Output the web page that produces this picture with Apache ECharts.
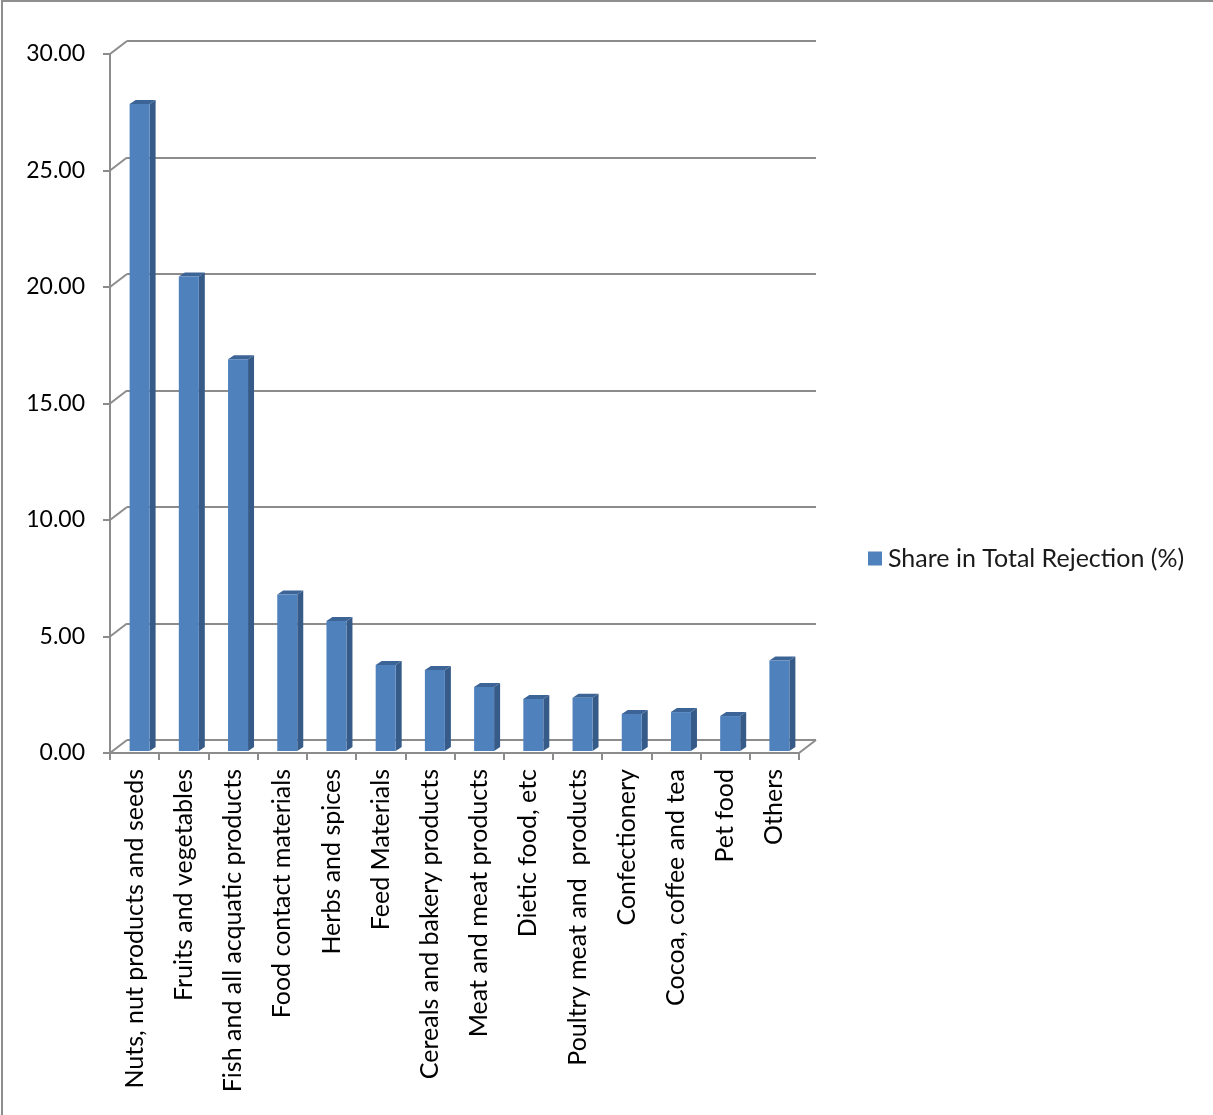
<!DOCTYPE html>
<html>
<head>
<meta charset="utf-8">
<script src="https://cdn.jsdelivr.net/npm/echarts@6/dist/echarts.min.js"></script>
<style>
html,body{margin:0;padding:0;background:#fff;}
#frame{position:absolute;left:1px;top:0;width:1212px;height:1115px;box-sizing:border-box;border-left:2px solid #8e8e8e;border-top:2px solid #8e8e8e;}
#chart{position:absolute;left:0;top:0;width:1213px;height:1115px;}
</style>
</head>
<body>
<div id="chart"></div>
<div id="frame"></div>
<script>
const categories = [
  "Nuts, nut products and seeds",
  "Fruits and vegetables",
  "Fish and all acquatic products",
  "Food contact materials",
  "Herbs and spices",
  "Feed Materials",
  "Cereals and bakery products",
  "Meat and meat products",
  "Dietic food, etc",
  "Poultry meat and  products",
  "Confectionery",
  "Cocoa, coffee and tea",
  "Pet food",
  "Others"
];
const shareValues = [27.77, 20.36, 16.81, 6.72, 5.58, 3.69, 3.48, 2.75, 2.23, 2.29, 1.59, 1.67, 1.50, 3.88];
const seriesName = "Share in Total Rejection (%)";
const yTicks = [0, 5, 10, 15, 20, 25, 30];

const FONT = "Lato";
const GRAY = "#8c8c8c";
const DEPTH_X = 17, DEPTH_Y = 13;   // back-wall offset
const BAR_W = 20, BAR_DX = 6, BAR_DY = 4; // bar face width and bar depth

const chart = echarts.init(document.getElementById('chart'), null, {renderer: 'canvas'});

function renderBar(params, api) {
  const idx = api.value(0);
  const val = api.value(1);
  const top = api.coord([idx, val]);
  const base = api.coord([idx, 0]);
  const cx = top[0] + 5;
  const x0 = cx - BAR_W / 2, x1 = cx + BAR_W / 2;
  const yT = top[1] - 2, yB = base[1] - 2;
  return {
    type: 'group',
    children: [
      {type: 'polygon', shape: {points: [[x1, yT], [x1 + BAR_DX, yT - BAR_DY], [x1 + BAR_DX, yB - BAR_DY], [x1, yB]]},
       style: {fill: '#375b88'}},
      {type: 'polygon', shape: {points: [[x0, yT], [x0 + BAR_DX, yT - BAR_DY], [x1 + BAR_DX, yT - BAR_DY], [x1, yT]]},
       style: {fill: '#3d6496'}},
      {type: 'rect', shape: {x: x0, y: yT, width: BAR_W, height: yB - yT},
       style: {fill: '#4f81bd'}}
    ]
  };
}

function renderConnectors(params, api) {
  const v = api.value(0);
  const cs = params.coordSys;
  const y = api.coord([0, v])[1];
  const children = [
    {type: 'line', shape: {x1: cs.x, y1: y, x2: cs.x + DEPTH_X, y2: y - DEPTH_Y},
     style: {stroke: GRAY, lineWidth: 2}}
  ];
  if (v === 0) {
    const xr = cs.x + cs.width;
    children.push({type: 'line', shape: {x1: xr, y1: y, x2: xr + DEPTH_X, y2: y - DEPTH_Y},
      style: {stroke: GRAY, lineWidth: 2}});
  }
  return {type: 'group', children};
}

const option = {
  animation: false,
  backgroundColor: '#fff',
  textStyle: {fontFamily: FONT},
  legend: {
    data: [{name: seriesName, icon: 'rect'}],
    left: 868, top: 546, padding: 0,
    itemWidth: 14, itemHeight: 14, itemGap: 6,
    textStyle: {fontFamily: FONT, fontSize: 25, color: '#1a1a1a', padding: [0, 0, 0, 1]}
  },
  grid: [
    {left: 110, right: 1213 - 799, top: 54, bottom: 1115 - 753},
    {left: 110 + DEPTH_X, right: 1213 - 799 - DEPTH_X, top: 54 - DEPTH_Y, bottom: 1115 - 753 + DEPTH_Y}
  ],
  xAxis: [
    {
      type: 'category', gridIndex: 0, data: categories,
      axisLine: {lineStyle: {color: GRAY, width: 2}},
      axisTick: {show: true, length: 7, lineStyle: {color: GRAY, width: 2}},
      axisLabel: {rotate: 90, margin: 16, fontFamily: FONT, fontSize: 25, color: '#000', interval: 0}
    },
    {type: 'value', gridIndex: 1, min: 0, max: 1, show: false}
  ],
  yAxis: [
    {
      type: 'value', gridIndex: 0, min: 0, max: 30, interval: 5,
      axisLine: {show: true, lineStyle: {color: GRAY, width: 2}},
      axisTick: {show: true, length: 7, lineStyle: {color: GRAY, width: 2}},
      splitLine: {show: false},
      axisLabel: {margin: 25, fontFamily: FONT, fontSize: 23, color: '#000',
        formatter: v => v.toFixed(2)}
    },
    {
      type: 'value', gridIndex: 1, min: 0, max: 30, interval: 5,
      axisLine: {show: false}, axisTick: {show: false}, axisLabel: {show: false},
      splitLine: {show: true, lineStyle: {color: GRAY, width: 2}}
    }
  ],
  series: [
    {
      type: 'custom', name: 'connectors', xAxisIndex: 0, yAxisIndex: 0,
      data: yTicks.map(v => [v]), renderItem: renderConnectors, silent: true, z: 1,
      encode: {y: 0}
    },
    {
      type: 'custom', name: seriesName, xAxisIndex: 0, yAxisIndex: 0,
      itemStyle: {color: '#4f81bd'},
      data: shareValues.map((v, i) => [i, v]),
      encode: {x: 0, y: 1},
      renderItem: renderBar, z: 3
    }
  ]
};
chart.setOption(option);
</script>
</body>
</html>
